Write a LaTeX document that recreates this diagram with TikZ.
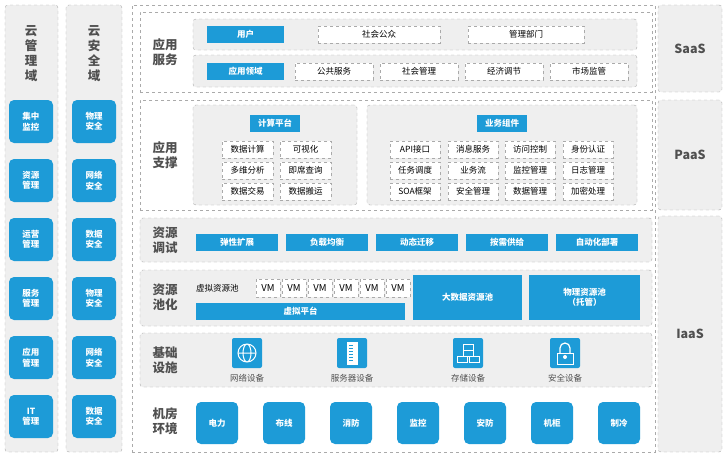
\documentclass[tikz,border=0pt]{standalone}
\usepackage{fontspec}
\setmainfont{Noto Sans CJK SC}
\usetikzlibrary{calc}
\definecolor{cblue}{RGB}{29,155,215}
\definecolor{pgray}{RGB}{239,239,239}
\definecolor{dgray}{RGB}{170,170,170}
\definecolor{tgray}{RGB}{80,80,80}
\tikzset{
  panel/.style={draw=dgray,dashed,fill=pgray,rounded corners=3pt,inner sep=0pt},
  frame/.style={draw=dgray,dashed,fill=white,inner sep=0pt},
  blue/.style={fill=cblue,text=white,inner sep=0pt,font=\bfseries\fontsize{8.5}{10.5}\selectfont,align=center},
  tile/.style={blue,rounded corners=5pt},
  item/.style={draw=dgray,dashed,fill=white,inner sep=0pt,text=black,font=\fontsize{8.5}{10}\selectfont},
  layer/.style={font=\bfseries\fontsize{12.5}{15}\selectfont,text=tgray,align=center},
  icon/.style={fill=cblue,rounded corners=2pt,minimum size=30pt,inner sep=0pt},
}
% box from corners: style, name, x1, y1, x2, y2, text
\newcommand{\bx}[7]{\node[#1,minimum width={(#5)-(#3)},minimum height={(#6)-(#4)}] (#2) at ({(#3+#5)/2},{(#4+#6)/2}) {#7};}
\begin{document}
\begin{tikzpicture}[x=1pt,y=-1pt]
  \useasboundingbox (0,0) rectangle (726,456);
  % side domains
  \bx{panel}{mgmt}{5}{5}{58}{452}{}
  \bx{panel}{sec}{66}{5}{122}{452}{}
  \node[layer] at (31,54) {云\\管\\理\\域};
  \node[layer] at (94,54) {云\\安\\全\\域};
  \foreach \t [count=\i from 0] in {集中\\监控,资源\\管理,运营\\管理,服务\\管理,应用\\管理,IT\\管理}
    \bx{tile}{m\i}{9}{100+59*\i}{53}{143+59*\i}{\t};
  \foreach \t [count=\i from 0] in {物理\\安全,网络\\安全,数据\\安全,物理\\安全,网络\\安全,数据\\安全}
    \bx{tile}{s\i}{72}{100+59*\i}{116}{143+59*\i}{\t};
  % service models
  \bx{panel}{saas}{658}{5}{722}{92}{}
  \bx{panel}{paas}{658}{100}{722}{210}{}
  \bx{panel}{iaas}{658}{216}{722}{452}{}
  \node[layer] at (saas) {SaaS};
  \node[layer] at (paas) {PaaS};
  \node[layer] at (iaas) {IaaS};
  % main stack
  \bx{frame}{main}{132}{5}{655}{452}{}
  % application services
  \bx{frame}{svc}{140}{12}{652}{92}{}
  \node[layer] at (165,52) {应用\\服务};
  \bx{panel}{svcA}{193}{19}{637}{50}{}
  \bx{panel}{svcB}{193}{55}{637}{87}{}
  \bx{blue}{user}{207}{26}{284}{43}{用户}
  \bx{item}{public}{318}{26}{440}{43}{社会公众}
  \bx{item}{dept}{468}{26}{584}{43}{管理部门}
  \bx{blue}{field}{207}{63}{284}{80}{应用领域}
  \foreach \t [count=\i from 0] in {公共服务,社会管理,经济调节,市场监管}
    \bx{item}{f\i}{295+85*\i}{63}{373+85*\i}{80}{\t};
  % application support
  \bx{frame}{sup}{140}{100}{652}{210}{}
  \node[layer] at (165,155) {应用\\支撑};
  \bx{panel}{calc}{193}{105}{357}{205}{}
  \bx{panel}{biz}{367}{105}{637}{205}{}
  \bx{blue}{calcT}{250}{115}{300}{132}{计算平台}
  \bx{blue}{bizT}{477}{115}{527}{132}{业务组件}
  \foreach \a/\b [count=\r from 0] in {数据计算/可视化,多维分析/即席查询,数据交易/数据搬运}{
    \bx{item}{c\r a}{222}{141+21*\r}{273}{158+21*\r}{\a}
    \bx{item}{c\r b}{280}{141+21*\r}{331}{158+21*\r}{\b}
  }
  \foreach \a/\b/\c/\d [count=\r from 0] in {API接口/消息服务/访问控制/身份认证,任务调度/业务流/监控管理/日志管理,SOA框架/安全管理/数据管理/加密处理}{
    \bx{item}{b\r a}{390}{141+21*\r}{440}{158+21*\r}{\a}
    \bx{item}{b\r b}{448}{141+21*\r}{498}{158+21*\r}{\b}
    \bx{item}{b\r c}{505}{141+21*\r}{555}{158+21*\r}{\c}
    \bx{item}{b\r d}{563}{141+21*\r}{613}{158+21*\r}{\d}
  }
  % resource scheduling
  \bx{panel}{sched}{140}{218}{652}{262}{}
  \node[layer] at (165,240) {资源\\调试};
  \foreach \t [count=\i from 0] in {弹性扩展,负载均衡,动态迁移,按需供给,自动化部署}
    \bx{blue}{d\i}{196+90*\i}{234}{278+90*\i}{251}{\t};
  % resource pooling
  \bx{panel}{pool}{140}{270}{652}{326}{}
  \node[layer] at (165,297) {资源\\池化};
  \node[font=\fontsize{8.5}{10}\selectfont,anchor=west,inner sep=0pt] (vpool) at (196,288) {虚拟资源池};
  \foreach \i in {0,...,5}
    \bx{item}{vm\i}{256+26*\i}{279}{280+26*\i}{297}{\fontsize{9.5}{11}\selectfont VM};
  \bx{blue}{vplat}{196}{303}{405}{320}{虚拟平台}
  \bx{blue}{bigdata}{413}{275}{522}{320}{大数据资源池}
  \bx{blue}{phys}{529}{275}{640}{320}{物理资源池\\（托管）}
  % infrastructure
  \bx{panel}{infra}{140}{333}{652}{387}{}
  \node[layer] at (165,360) {基础\\设施};
  \node[icon] (net) at (247,353) {};
  \draw[white,line width=1pt] (net) circle (9pt) (net.center) ellipse (4pt and 9pt)
    ($(net)+(-9pt,0)$) -- ($(net)+(9pt,0)$);
  \node[icon] (srv) at (352,353) {};
  \draw[white,fill=white] ($(srv)+(-5,-11)$) rectangle ($(srv)+(5,11)$);
  \foreach \k in {-8,-5,...,7} \draw[cblue,line width=.6pt] ($(srv)+(-3,\k)$) -- ($(srv)+(1,\k)$);
  \node[icon] (sto) at (468,353) {};
  \foreach \dx/\dy in {-6/3,6/3,0/-3,0/-9}
    \draw[white,line width=.8pt] ($(sto)+(\dx-5,\dy)$) rectangle ($(sto)+(\dx+5,\dy+6)$);
  \node[icon] (lock) at (565,353) {};
  \draw[white,line width=1.2pt] ($(lock)+(-5,0)$) -- ($(lock)+(-5,-5)$) arc (180:360:5) -- ($(lock)+(5,0)$);
  \draw[white,line width=1pt] ($(lock)+(-8,0)$) rectangle ($(lock)+(8,11)$);
  \fill[white] ($(lock)+(0,4)$) circle (2pt);
  \foreach \n/\t in {net/网络设备,srv/服务器设备,sto/存储设备,lock/安全设备}
    \node[font=\fontsize{8.5}{10}\selectfont,text=tgray] at ($(\n)+(0,25)$) {\t};
  % machine room
  \node[layer] at (165,421) {机房\\环境};
  \foreach \t [count=\i from 0] in {电力,布线,消防,监控,安防,机柜,制冷}
    \bx{tile}{e\i}{196+67*\i}{402}{238+67*\i}{444}{\t};
\end{tikzpicture}
\end{document}
